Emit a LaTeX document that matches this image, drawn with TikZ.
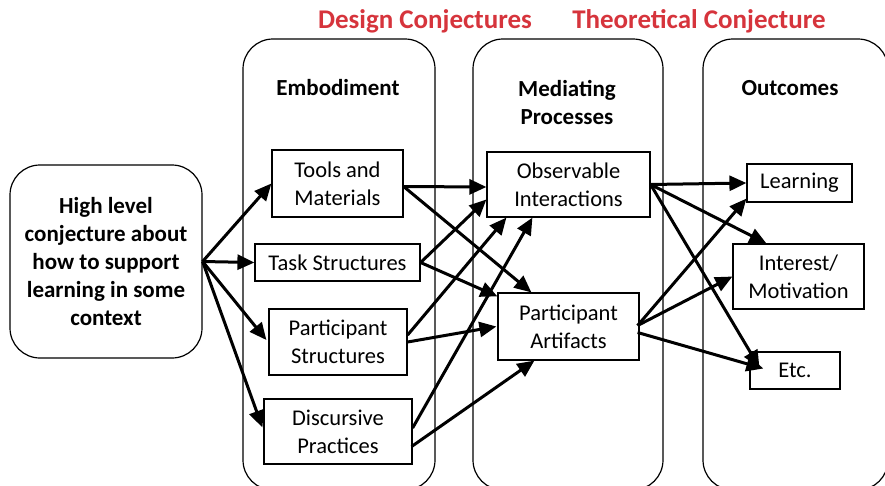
\documentclass[tikz,border=0pt]{standalone}
\usepackage{fontspec}
\setmainfont{Carlito}
\usetikzlibrary{arrows.meta}
\definecolor{conjred}{RGB}{214,52,60}
\begin{document}
\begin{tikzpicture}[x=1pt,y=-1pt,
  box/.style={draw, line width=1.2pt, inner sep=0pt, align=center, font=\fontsize{22.5}{28}\selectfont},
  colbox/.style={draw, line width=1.2pt, rounded corners=30pt, inner sep=0pt},
  hdr/.style={font=\bfseries\fontsize{23}{28}\selectfont, align=center, inner sep=0pt},
  conjlabel/.style={font=\bfseries\fontsize{27}{32}\selectfont, text=conjred, inner sep=0pt},
  arr/.style={line width=3pt, -{Triangle[length=17pt,width=15pt]}},
]
\useasboundingbox (0,0) rectangle (885,485);
% columns
\node[colbox, minimum width=192pt, minimum height=451pt] (col1) at (339,264.5) {};
\node[colbox, minimum width=190pt, minimum height=451pt] (col2) at (568,264.5) {};
\node[colbox, minimum width=185pt, minimum height=451pt] (col3) at (795.5,264.5) {};
% red labels
\node[conjlabel] (dc) at (425,21) {Design Conjectures};
\node[conjlabel] (tc) at (699,21) {Theoretical Conjecture};
% headers
\node[hdr] (emb) at (338,88) {Embodiment};
\node[hdr] (med) at (567,102) {Mediating\\Processes};
\node[hdr] (outc) at (790,88) {Outcomes};
% left node
\node[box, rounded corners=30pt, minimum width=192pt, minimum height=193pt, font=\bfseries\fontsize{23}{28}\selectfont] (hl) at (106,261.5) {High level\\conjecture about\\how to support\\learning in some\\context};
% embodiment boxes
\node[box, minimum width=131pt, minimum height=67pt] (tools) at (337.5,183.5) {Tools and\\Materials};
\node[box, minimum width=165pt, minimum height=37pt] (task) at (337.5,262.5) {Task Structures};
\node[box, minimum width=138pt, minimum height=66pt] (pstruct) at (338,342) {Participant\\Structures};
\node[box, minimum width=148pt, minimum height=65pt] (disc) at (338,431.5) {Discursive\\Practices};
% mediating boxes
\node[box, minimum width=163pt, minimum height=65pt] (obs) at (568.5,184.5) {Observable\\Interactions};
\node[box, minimum width=141pt, minimum height=67pt] (part) at (568.5,326.5) {Participant\\Artifacts};
% outcome boxes
\node[box, minimum width=105pt, minimum height=38pt] (learn) at (799.5,183) {Learning};
\node[box, minimum width=131pt, minimum height=65pt] (inter) at (798.5,276.5) {Interest/\\Motivation};
\node[box, minimum width=90pt, minimum height=37pt] (etc) at (795,370.5) {Etc.};
% arrows from high level
\draw[arr] (hl.east) -- (tools.west);
\draw[arr] (hl.east) -- (task.west);
\draw[arr] (hl.east) -- ([xshift=-2pt,yshift=2pt]pstruct.west);
\draw[arr] (hl.east) -- ([xshift=-1pt,yshift=4pt]disc.west);
% embodiment -> mediating
\draw[arr] ([yshift=-3pt]tools.east) -- ([yshift=-2.5pt]obs.west);
\draw[arr] ([yshift=-3pt]tools.east) -- ([xshift=34pt]part.north west);
\draw[arr] (task.east) -- ([yshift=-15pt]obs.west);
\draw[arr] (task.east) -- ([yshift=-4pt]part.north west);
\draw[arr] ([yshift=7pt]pstruct.east) -- ([xshift=20pt]obs.south west);
\draw[arr] (pstruct.east) -- ([xshift=-1pt]part.west);
\draw[arr] ([yshift=3.5pt]disc.east) -- ([xshift=46pt]obs.south west);
\draw[arr] ([xshift=-1pt,yshift=-15pt]disc.east) -- ([xshift=37pt]part.south west);
% mediating -> outcomes
\draw[arr] (obs.east) -- (learn.west);
\draw[arr] (obs.east) -- ([xshift=34pt]inter.north west);
\draw[arr] (obs.east) -- ([xshift=10pt,yshift=3pt]etc.west);
\draw[arr] ([xshift=-2pt,yshift=1pt]part.east) -- ([yshift=4pt]learn.south west);
\draw[arr] ([xshift=-2pt,yshift=1pt]part.east) -- (inter.west);
\draw[arr] ([xshift=-2pt,yshift=-6pt]part.east) -- ([xshift=14pt,yshift=2pt]etc.west);
\end{tikzpicture}
\end{document}
